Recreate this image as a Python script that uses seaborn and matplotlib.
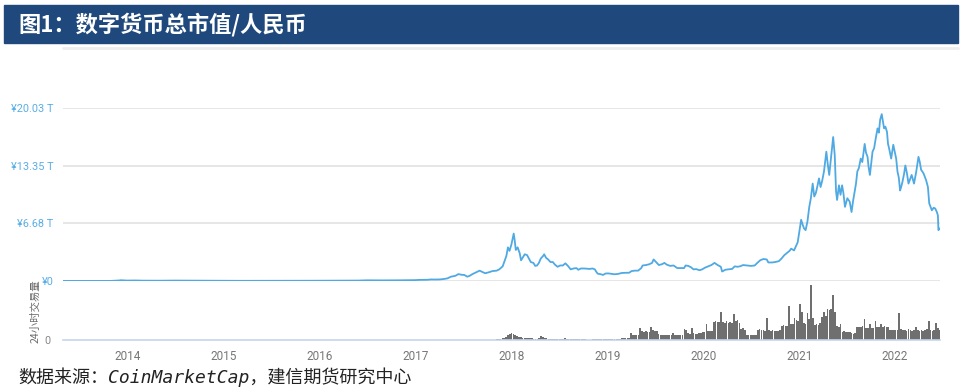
import pandas as pd
import matplotlib
matplotlib.use("Agg")
import matplotlib.pyplot as plt
import seaborn as sns
from matplotlib.patches import Rectangle
from matplotlib.lines import Line2D

# ---- 数据：总市值（万亿人民币） ----
price_dates = [
    "2013-04-28", "2013-05-28", "2013-06-28", "2013-07-28", "2013-08-28", "2013-09-28",
    "2013-10-28", "2013-11-28", "2013-12-05", "2013-12-28",
    "2014-01-28", "2014-02-28", "2014-03-28", "2014-04-28", "2014-05-28", "2014-06-28",
    "2014-07-28", "2014-08-28", "2014-09-28", "2014-10-28", "2014-11-28", "2014-12-28",
    "2015-01-28", "2015-02-28", "2015-03-28", "2015-04-28", "2015-05-28", "2015-06-28",
    "2015-07-28", "2015-08-28", "2015-09-28", "2015-10-28", "2015-11-28", "2015-12-28",
    "2016-01-28", "2016-02-28", "2016-03-28", "2016-04-28", "2016-05-28", "2016-06-28",
    "2016-07-28", "2016-08-28", "2016-09-28", "2016-10-28", "2016-11-28", "2016-12-28",
    "2017-01-15", "2017-02-01", "2017-02-15", "2017-03-01", "2017-03-15", "2017-04-01",
    "2017-04-15", "2017-05-01", "2017-05-15", "2017-06-01", "2017-06-12", "2017-06-25",
    "2017-07-05", "2017-07-16", "2017-07-25", "2017-08-05", "2017-08-15", "2017-09-01",
    "2017-09-08", "2017-09-22", "2017-10-05", "2017-10-20", "2017-11-05", "2017-11-15",
    "2017-11-28", "2017-12-05", "2017-12-12", "2017-12-18", "2017-12-24", "2017-12-31",
    "2018-01-04", "2018-01-09", "2018-01-12", "2018-01-17", "2018-01-24", "2018-02-01",
    "2018-02-06", "2018-02-12", "2018-02-20", "2018-03-01", "2018-03-08", "2018-03-15",
    "2018-03-25", "2018-04-01", "2018-04-08", "2018-04-15", "2018-04-22", "2018-05-01",
    "2018-05-05", "2018-05-12", "2018-05-20", "2018-05-29", "2018-06-07", "2018-06-15",
    "2018-06-25", "2018-07-05", "2018-07-15", "2018-07-25", "2018-08-05", "2018-08-14",
    "2018-08-25", "2018-09-05", "2018-09-12", "2018-09-22", "2018-10-05", "2018-10-15",
    "2018-10-25", "2018-11-05", "2018-11-14", "2018-11-20", "2018-11-25", "2018-12-05",
    "2018-12-15", "2018-12-25",
    "2019-01-05", "2019-01-15", "2019-01-28", "2019-02-10", "2019-02-25", "2019-03-10",
    "2019-03-25", "2019-04-03", "2019-04-15", "2019-04-28", "2019-05-10", "2019-05-15",
    "2019-05-28", "2019-06-10", "2019-06-20", "2019-06-26", "2019-07-05", "2019-07-16",
    "2019-07-28", "2019-08-06", "2019-08-15", "2019-08-28", "2019-09-10", "2019-09-24",
    "2019-10-05", "2019-10-20", "2019-10-26", "2019-11-05", "2019-11-15", "2019-11-25",
    "2019-12-05", "2019-12-18", "2019-12-28",
    "2020-01-08", "2020-01-20", "2020-02-01", "2020-02-13", "2020-02-25", "2020-03-08",
    "2020-03-13", "2020-03-25", "2020-04-05", "2020-04-20", "2020-04-30", "2020-05-10",
    "2020-05-20", "2020-06-01", "2020-06-15", "2020-07-01", "2020-07-15", "2020-07-25",
    "2020-08-05", "2020-08-17", "2020-08-30", "2020-09-05", "2020-09-20", "2020-10-01",
    "2020-10-15", "2020-10-25", "2020-11-05", "2020-11-15", "2020-11-25", "2020-12-01",
    "2020-12-12", "2020-12-20", "2020-12-26",
    "2021-01-01", "2021-01-08", "2021-01-13", "2021-01-19", "2021-01-25", "2021-02-01",
    "2021-02-08", "2021-02-14", "2021-02-21", "2021-02-27", "2021-03-05", "2021-03-11",
    "2021-03-17", "2021-03-23", "2021-03-29", "2021-04-05", "2021-04-14", "2021-04-20",
    "2021-04-25", "2021-05-02", "2021-05-10", "2021-05-16", "2021-05-21", "2021-05-25",
    "2021-06-01", "2021-06-07", "2021-06-13", "2021-06-18", "2021-06-24", "2021-07-03",
    "2021-07-12", "2021-07-19", "2021-07-25", "2021-07-31", "2021-08-05", "2021-08-10",
    "2021-08-16", "2021-08-23", "2021-08-29", "2021-09-07", "2021-09-12", "2021-09-18",
    "2021-09-22", "2021-09-27", "2021-10-02", "2021-10-07", "2021-10-13", "2021-10-19",
    "2021-10-26", "2021-10-31", "2021-11-05", "2021-11-11", "2021-11-16", "2021-11-20",
    "2021-11-25", "2021-12-01", "2021-12-05", "2021-12-09", "2021-12-17", "2021-12-25",
    "2022-01-01", "2022-01-05", "2022-01-10", "2022-01-15", "2022-01-20", "2022-01-24",
    "2022-01-29", "2022-02-04", "2022-02-09", "2022-02-15", "2022-02-21", "2022-02-27",
    "2022-03-05", "2022-03-14", "2022-03-22", "2022-03-31", "2022-04-05", "2022-04-10",
    "2022-04-19", "2022-04-29", "2022-05-06", "2022-05-11", "2022-05-21", "2022-05-28",
    "2022-06-03", "2022-06-09", "2022-06-13", "2022-06-15", "2022-06-20",
]
price_tn = [
    0.01, 0.008, 0.007, 0.006, 0.008, 0.009,
    0.012, 0.06, 0.09, 0.05,
    0.06, 0.04, 0.035, 0.035, 0.045, 0.05,
    0.045, 0.04, 0.03, 0.03, 0.03, 0.025,
    0.02, 0.02, 0.02, 0.02, 0.02, 0.02,
    0.025, 0.02, 0.02, 0.025, 0.03, 0.035,
    0.04, 0.04, 0.045, 0.045, 0.05, 0.08,
    0.07, 0.07, 0.07, 0.08, 0.09, 0.1,
    0.13, 0.13, 0.14, 0.18, 0.17, 0.18,
    0.22, 0.3, 0.5, 0.6, 0.8, 0.72,
    0.7, 0.5, 0.6, 0.8, 0.95, 1.2,
    1.1, 0.9, 1.0, 1.15, 1.2, 1.35,
    1.7, 2.3, 2.9, 3.9, 3.5, 4.2,
    4.8, 5.5, 4.9, 3.6, 3.9, 3.2,
    2.4, 2.7, 3.1, 3.0, 2.6, 2.2,
    2.1, 1.75, 1.8, 2.1, 2.6, 2.9,
    3.1, 2.7, 2.5, 2.2, 2.2, 1.9,
    1.65, 1.8, 1.8, 2.05, 1.7, 1.35,
    1.45, 1.5, 1.3, 1.45, 1.45, 1.42,
    1.4, 1.45, 1.35, 1.05, 0.85, 0.8,
    0.7, 0.87,
    0.88, 0.84, 0.78, 0.82, 0.93, 0.95,
    0.96, 1.15, 1.2, 1.2, 1.5, 1.8,
    1.85, 1.95, 2.1, 2.5, 2.2, 1.85,
    1.95, 2.1, 1.9, 1.75, 1.8, 1.5,
    1.5, 1.5, 1.8, 1.75, 1.6, 1.35,
    1.38, 1.25, 1.35,
    1.55, 1.7, 1.85, 2.1, 1.85, 1.65,
    1.1, 1.3, 1.35, 1.4, 1.7, 1.65,
    1.7, 1.85, 1.8, 1.75, 1.8, 2.1,
    2.4, 2.55, 2.5, 2.15, 2.15, 2.2,
    2.3, 2.6, 3.0, 3.25, 3.5, 3.75,
    3.55, 4.1, 4.5,
    5.7, 7.1, 6.6, 6.1, 5.9, 6.9,
    8.6, 9.6, 11.3, 9.8, 10.2, 11.0,
    11.9, 10.9, 11.6, 12.7, 15.0, 13.4,
    12.3, 14.4, 16.7, 14.6, 10.4, 9.4,
    11.1, 10.0, 11.1, 10.2, 8.6, 9.6,
    9.2, 8.0, 9.3, 10.4, 11.3, 12.7,
    13.1, 14.2, 13.8, 15.9, 14.9, 14.4,
    13.2, 12.3, 13.6, 15.0, 15.4, 16.5,
    17.7, 17.2, 18.7, 19.35, 18.4, 17.7,
    17.9, 17.3, 15.9, 15.4, 14.2, 15.8,
    14.8, 14.2, 12.7, 12.0, 10.5, 10.9,
    11.5, 12.4, 13.4, 12.5, 11.3, 11.8,
    12.3, 11.3, 12.6, 14.4, 13.8, 12.9,
    12.5, 11.7, 10.9, 9.0, 8.2, 8.5,
    8.4, 8.0, 7.6, 5.9, 6.1,
]

# ---- 数据：24小时交易量（周度，相对刻度） ----
vol_start = "2017-11-06"
volume = [
    # 2017
    0.8, 1.0, 1.2, 1.6, 2.2, 3.5, 5.5, 6.0,
    # 2018
    7.0, 6.5, 5.5, 4.0, 3.2, 3.5, 2.5, 2.2, 1.8, 1.8, 1.7, 1.6, 1.5,
    1.4, 1.5, 2.0, 3.8, 3.0, 2.0, 1.6, 1.5, 1.4, 1.3, 1.4, 1.3, 1.3,
    1.3, 1.3, 1.5, 1.6, 1.4, 1.3, 1.3, 1.2, 1.2, 1.3, 1.2, 1.1, 1.2,
    1.1, 1.0, 0.0, 0.0, 0.0, 1.0, 1.0, 1.2, 1.1, 1.0, 1.0, 1.0, 1.0, 1.0,
    # 2019
    1.0, 1.0, 1.0, 1.0, 1.0, 1.1, 1.5, 2.0, 2.0, 2.0, 2.2, 2.3,
    7.0, 5.0, 4.8, 5.0, 5.2, 12.5, 9.5, 8.5, 8.8, 8.0, 8.5, 13.0, 10.0,
    9.0, 9.5, 6.0, 5.3, 5.0, 5.5, 5.2, 5.0, 4.8, 5.0, 7.0, 5.0, 5.5, 5.0,
    5.0, 5.3, 11.0, 10.5, 7.0, 6.5, 12.0, 7.0, 6.5, 6.0, 6.8, 7.5, 8.0,
    # 2020
    8.5, 16.0, 9.0, 9.5, 9.3, 18.0, 19.0, 18.5, 18.0, 28.5, 18.0, 17.5, 19.0,
    17.5, 18.0, 17.0, 26.0, 19.0, 20.0, 17.5, 11.0, 12.0, 10.5, 5.5, 5.3, 5.0,
    5.2, 5.0, 5.5, 10.0, 11.0, 10.5, 10.0, 9.5, 22.0, 10.0, 9.3, 10.0, 9.5,
    9.0, 9.5, 10.5, 14.0, 15.0, 14.3, 14.0, 34.0, 16.5, 16.0, 22.0, 20.0, 19.0,
    # 2021
    36.5, 28.0, 17.0, 16.5, 27.0, 21.5, 55.0, 22.0, 15.0, 16.5, 15.0, 17.0, 23.0,
    28.0, 24.0, 31.5, 30.0, 31.0, 45.0, 28.0, 14.0, 13.3, 16.0, 8.5, 9.0, 8.3,
    8.0, 8.3, 6.7, 6.5, 7.0, 13.0, 13.5, 13.3, 14.0, 20.7, 11.7, 12.0, 16.5,
    11.7, 12.0, 19.3, 13.0, 13.3, 16.5, 13.5, 14.5, 13.0, 13.3, 10.0, 10.5, 9.8,
    # 2022
    10.0, 10.5, 26.7, 11.0, 10.0, 10.5, 9.5, 11.0, 10.0, 9.0, 10.0, 13.3, 10.0,
    9.5, 10.0, 9.0, 10.0, 11.0, 19.3, 10.5, 9.5, 10.0, 17.3, 12.0, 10.0,
]

ytick_vals = [0, 6.68, 13.35, 20.03]
ytick_labels = ["¥0", "¥6.68 T", "¥13.35 T", "¥20.03 T"]
year_ticks = list(range(2014, 2023))

TITLE = "图1：数字货币总市值/人民币"
SOURCE = "数据来源：CoinMarketCap，建信期货研究中心"
LINE_BLUE = "#4fa9e3"
LABEL_BLUE = "#5aaee6"
NARROW = ["Liberation Sans Narrow", "Roboto", "DejaVu Sans"]

sns.set_style("white")
plt.rcParams["font.family"] = ["Noto Sans CJK SC", "DejaVu Sans"]

price_df = pd.DataFrame({"date": pd.to_datetime(price_dates), "value": price_tn})
vol_df = pd.DataFrame({
    "date": pd.date_range(vol_start, periods=len(volume), freq="W-MON"),
    "value": volume,
})

W, H = 962, 389
fig = plt.figure(figsize=(W / 100, H / 100), dpi=100)

# 标题栏
fig.patches.append(Rectangle((4 / W, 1 - 43 / H), 954 / W, 38 / H,
                             transform=fig.transFigure, color="#1f497d", zorder=0))
fig.text(18 / W, 1 - 25 / H, TITLE, color="white", fontsize=16, fontweight="bold",
         va="center", ha="left")
fig.add_artist(Line2D([63 / W, 958 / W], [1 - 48 / H, 1 - 48 / H],
                      transform=fig.transFigure, color="#eeeeee", lw=2))

x0, x1 = pd.Timestamp("2013-04-28"), pd.Timestamp("2022-06-21")

# 上：总市值
ax = fig.add_axes([63 / W, 1 - 281 / H, 877 / W, (281 - 108.3) / H])
sns.lineplot(data=price_df, x="date", y="value", ax=ax, color=LINE_BLUE,
             linewidth=1.3, zorder=3)
ax.set_xlim(x0, x1)
ax.set_ylim(0, 20.03)
ax.set_yticks(ytick_vals)
ax.set_yticklabels(ytick_labels, color=LABEL_BLUE, fontsize=7.8, family=NARROW)
ax.tick_params(axis="y", length=0, pad=7)
ax.set_xticks([])
ax.set_xlabel("")
ax.set_ylabel("")
ax.yaxis.grid(True, color="#e4e4e4", linewidth=1.3)
ax.xaxis.grid(False)
for s in ax.spines.values():
    s.set_visible(False)

# 下：24小时交易量
axv = fig.add_axes([63 / W, 1 - 340 / H, 877 / W, (340 - 282) / H])
axv.bar(vol_df["date"], vol_df["value"], width=6.3, color="#6f6f6f", linewidth=0)
axv.set_xlim(x0, x1)
axv.set_ylim(0, 58)
axv.set_yticks([0])
axv.set_yticklabels(["0"], color="#888888", fontsize=7.8, family=NARROW)
axv.tick_params(axis="y", length=0, pad=9)
axv.set_xticks([pd.Timestamp(f"{y}-01-01") for y in year_ticks])
axv.set_xticklabels([str(y) for y in year_ticks], color="#777777", fontsize=8.5,
                    family=NARROW)
axv.tick_params(axis="x", length=6, width=1, color="#c6d6ee", pad=1)
for name, s in axv.spines.items():
    s.set_visible(name == "bottom")
axv.spines["bottom"].set_color("#c6d6ee")
axv.spines["bottom"].set_linewidth(1.2)
axv.grid(False)

fig.text(35 / W, 1 - 311 / H, "24小时交易量", rotation=90, color="#6a6a6a",
         fontsize=7.5, va="center", ha="center")

# 来源
fig.text(18 / W, 1 - 377 / H, SOURCE, fontsize=13, style="italic", color="#222222",
         family=["DejaVu Sans Mono", "Noto Sans CJK SC"], va="center", ha="left")

fig.savefig("out.png", dpi=100, facecolor="white")
